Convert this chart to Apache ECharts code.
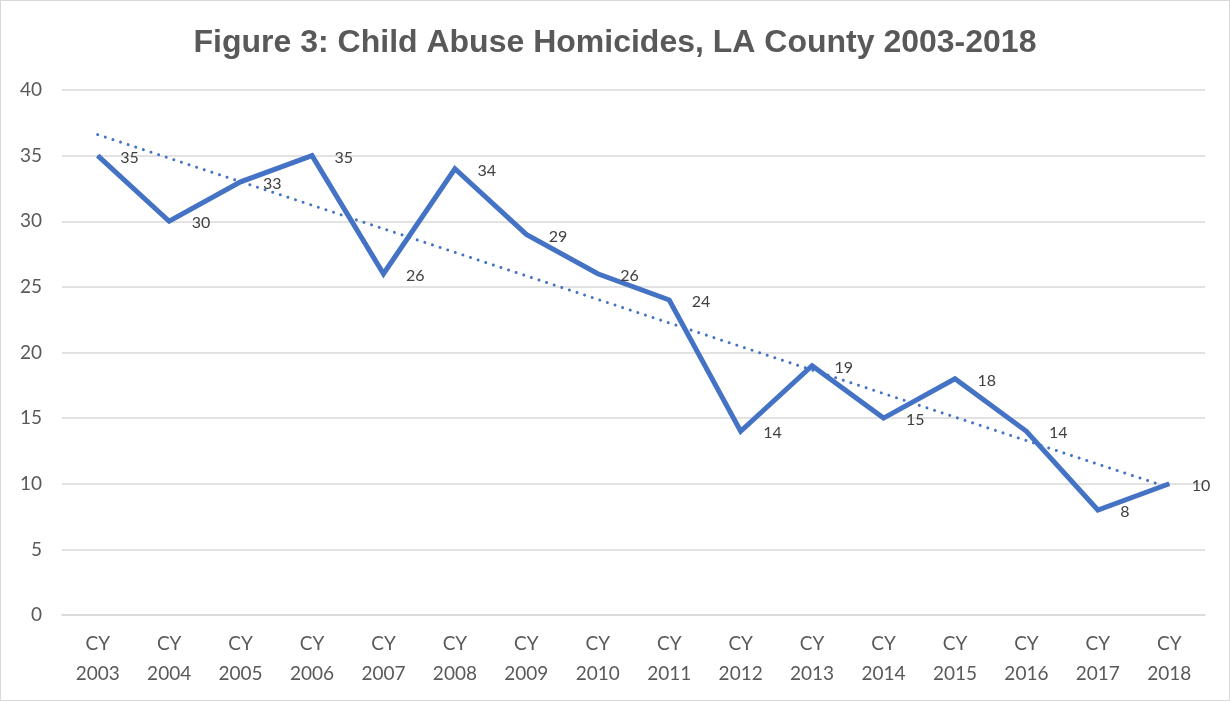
<!DOCTYPE html>
<html>
<head>
    <meta charset="UTF-8">
    <title>Child Abuse Homicides</title>
    <script src="https://cdn.jsdelivr.net/npm/echarts@6/dist/echarts.min.js"></script>
    <style>
        html, body { margin: 0; padding: 0; background: #fff; }
        #container { width: 1228px; height: 699px; border: 1px solid #d9d9d9; }
    </style>
</head>
<body>
    <div id="container"></div>
    <script type="text/javascript">
        var years = ['CY\n2003', 'CY\n2004', 'CY\n2005', 'CY\n2006', 'CY\n2007', 'CY\n2008', 'CY\n2009', 'CY\n2010',
            'CY\n2011', 'CY\n2012', 'CY\n2013', 'CY\n2014', 'CY\n2015', 'CY\n2016', 'CY\n2017', 'CY\n2018'];
        var homicides = [35, 30, 33, 35, 26, 34, 29, 26, 24, 14, 19, 15, 18, 14, 8, 10];
        // trendline end values
        var trendStart = 36.6;
        var trendEnd = 9.7;
        var yTicks = { min: 0, max: 40, interval: 5 };

        var trend = years.map(function (y, i) {
            if (i === 0) return trendStart;
            if (i === years.length - 1) return trendEnd;
            return null;
        });

        var myChart = echarts.init(document.getElementById('container'));
        var option = {
            animation: false,
            title: {
                text: 'Figure 3: Child Abuse Homicides, LA County 2003-2018',
                left: 'center',
                top: 21,
                textStyle: {
                    fontFamily: 'Liberation Sans',
                    fontWeight: 'bold',
                    fontSize: 32,
                    color: '#595959'
                }
            },
            grid: {
                left: 61,
                right: 24,
                top: 89,
                bottom: 85
            },
            xAxis: {
                type: 'category',
                data: years,
                boundaryGap: true,
                axisLine: { lineStyle: { color: '#d9d9d9', width: 1.5 } },
                axisTick: { show: false },
                axisLabel: {
                    fontFamily: 'Lato',
                    fontSize: 19,
                    color: '#595959',
                    lineHeight: 30,
                    margin: 14,
                    interval: 0
                }
            },
            yAxis: {
                type: 'value',
                min: yTicks.min,
                max: yTicks.max,
                interval: yTicks.interval,
                axisLine: { show: false },
                axisTick: { show: false },
                axisLabel: {
                    fontFamily: 'Lato',
                    fontSize: 19,
                    color: '#595959',
                    margin: 20
                },
                splitLine: { lineStyle: { color: '#d9d9d9', width: 1.5 } }
            },
            series: [{
                name: 'Homicides',
                type: 'line',
                data: homicides,
                symbol: 'circle',
                symbolSize: 1,
                lineStyle: { color: '#4472C4', width: 5, join: 'miter' },
                itemStyle: { color: '#4472C4' },
                label: {
                    show: true,
                    position: 'right',
                    distance: 22,
                    offset: [0, 2],
                    fontFamily: 'Lato',
                    fontSize: 16,
                    color: '#404040'
                },
                z: 3
            }, {
                name: 'Trend',
                type: 'line',
                data: trend,
                connectNulls: true,
                symbol: 'none',
                lineStyle: { color: '#4472C4', width: 3, type: [0.01, 8], cap: 'round' },
                z: 2
            }]
        };
        myChart.setOption(option);
    </script>
</body>
</html>
